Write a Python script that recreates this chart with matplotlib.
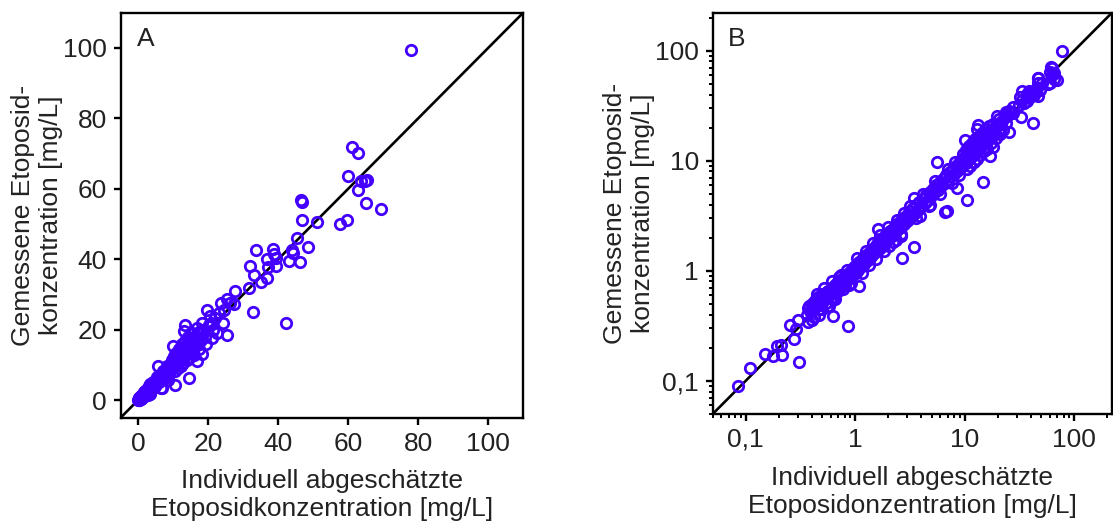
import matplotlib
matplotlib.use("Agg")
import matplotlib.pyplot as plt
from matplotlib.ticker import FixedLocator, FixedFormatter, LogLocator, NullFormatter

plt.rcParams['font.family'] = ['Liberation Sans', 'DejaVu Sans']

# Individually estimated etoposide concentration [mg/L]
individual_est = [
    0.085, 0.110, 0.151, 0.177, 0.193, 0.211, 0.214, 0.253, 0.301, 0.289, 0.277, 0.305, 0.374, 0.631, 0.859,
    0.36, 0.37, 0.38, 0.39, 0.40, 0.41, 0.42, 0.43, 0.44, 0.45, 0.46, 0.47, 0.48, 0.49, 0.50, 0.52, 0.53, 0.54,
    0.55, 0.56, 0.57, 0.58, 0.60, 0.61, 0.62, 0.63, 0.65, 0.66, 0.68, 0.69, 0.70, 0.72, 0.73, 0.75, 0.77, 0.79,
    0.80, 0.82, 0.84, 0.86, 0.88, 0.90, 0.92, 0.94, 0.96, 0.98, 0.40, 0.50, 0.63, 1.09,
    0.42, 0.45, 0.52, 0.58, 0.66, 0.71, 0.78, 0.85, 0.91, 0.55, 0.47, 0.62, 0.75, 0.88,
    1.00, 1.02, 1.04, 1.06, 1.08, 1.10, 1.12, 1.15, 1.18, 1.20, 1.22, 1.25, 1.28, 1.30, 1.33, 1.36, 1.40, 1.43,
    1.46, 1.50, 1.53, 1.56, 1.60, 1.61, 1.64, 1.68, 1.72, 1.76, 1.80, 1.84, 1.88, 1.92, 1.96, 2.00, 2.04, 2.05,
    2.10, 2.15, 2.20, 2.25, 2.30, 2.34, 2.36, 2.42, 2.48, 2.55, 2.62, 2.64, 2.69, 2.70, 2.78, 2.86, 2.95,
    1.05, 1.15, 1.25, 1.35, 1.45, 1.55, 1.70, 1.85, 2.00, 2.20, 2.40, 2.60, 2.80,
    3.02, 3.10, 3.20, 3.30, 3.44, 3.44, 3.40, 3.50, 3.62, 3.74, 3.86, 3.95, 4.00, 4.14, 4.30, 4.45, 4.60, 4.71,
    4.78, 4.95, 5.10, 5.30, 5.50, 5.56, 5.70, 5.90, 6.10, 6.30, 6.58, 6.90, 6.55, 6.80, 7.05, 7.30, 7.55, 7.80,
    8.05, 8.30, 8.50, 8.55, 8.80, 9.05, 9.30, 9.55, 9.80,
    3.20, 3.60, 4.20, 4.80, 5.40, 6.00, 7.00, 7.60, 8.20, 8.90, 9.60,
    10.0, 10.5, 10.1, 10.3, 10.6, 10.8, 11.0, 11.2, 11.4, 11.6, 11.8, 12.0, 12.2, 12.4, 12.6, 12.8, 13.0, 13.1,
    13.3, 13.2, 13.5, 13.7, 14.0, 14.2, 14.5, 14.6, 14.8, 15.0, 15.3, 15.6, 15.9, 16.2, 16.5, 16.9, 17.0, 17.3,
    17.6, 18.1, 18.0, 18.5, 19.0, 19.6, 20.1, 20.9, 21.5, 21.0, 22.0, 23.2, 24.4, 24.1, 25.5, 25.4, 26.3, 27.5,
    27.6,
    10.2, 10.4, 10.9, 11.3, 11.7, 12.1, 12.5, 12.9, 13.4, 13.9, 14.3, 14.9, 15.5, 16.0, 16.7, 17.5, 18.3, 19.3,
    20.5, 22.5, 23.8,
    31.6, 32.0, 32.8, 33.2, 33.6, 35.0, 36.8, 36.9, 37.2, 38.5, 38.9, 39.4, 39.5, 42.2, 43.2, 44.0, 44.3, 45.5,
    46.3, 46.5, 46.9, 46.7, 48.4, 51.2, 57.8, 59.8, 60.0, 61.1, 62.7, 62.9, 63.7, 64.7, 65.3, 65.0, 69.3, 77.8,
]

# Measured etoposide concentration [mg/L]
measured = [
    0.090, 0.132, 0.174, 0.169, 0.206, 0.212, 0.171, 0.323, 0.359, 0.295, 0.239, 0.147, 0.344, 0.385, 0.313,
    0.40, 0.46, 0.48, 0.43, 0.50, 0.44, 0.52, 0.47, 0.55, 0.49, 0.58, 0.52, 0.45, 0.56, 0.61, 0.54, 0.60, 0.51,
    0.64, 0.58, 0.66, 0.62, 0.57, 0.68, 0.64, 0.72, 0.63, 0.74, 0.70, 0.78, 0.66, 0.76, 0.82, 0.72, 0.80, 0.86,
    0.75, 0.88, 0.83, 0.93, 0.86, 0.97, 0.90, 1.02, 0.95, 1.08, 0.36, 0.45, 0.55, 0.73,
    0.38, 0.62, 0.70, 0.48, 0.56, 0.88, 0.68, 1.02, 0.78, 0.47, 0.40, 0.80, 0.92, 0.74,
    1.05, 0.96, 1.15, 1.02, 1.20, 1.08, 1.24, 1.10, 1.30, 1.16, 1.36, 1.22, 1.40, 1.25, 1.46, 1.32, 1.52, 1.38,
    1.58, 1.45, 1.66, 1.50, 1.74, 2.39, 1.58, 1.86, 1.65, 1.92, 1.74, 2.02, 1.80, 2.12, 1.90, 2.18, 1.69, 1.98,
    2.30, 2.06, 2.42, 2.16, 2.52, 1.91, 2.28, 2.64, 2.40, 2.80, 2.52, 2.08, 1.32, 2.95, 2.68, 3.10, 2.84,
    1.30, 0.95, 1.52, 1.12, 1.78, 1.28, 2.10, 1.52, 2.50, 1.82, 2.90, 2.18, 3.35,
    3.30, 2.98, 3.50, 3.18, 1.63, 4.55, 3.72, 3.38, 3.95, 3.58, 4.20, 3.16, 3.85, 4.50, 4.10, 4.85, 4.40, 3.90,
    5.20, 4.75, 5.55, 5.05, 6.00, 9.80, 5.40, 6.40, 5.85, 6.85, 3.40, 3.50, 6.25, 7.40, 6.70, 7.95, 7.20, 8.50,
    7.65, 9.00, 5.60, 8.15, 9.60, 8.60, 10.20, 9.05, 10.60,
    3.90, 3.00, 5.00, 4.00, 6.50, 5.00, 8.40, 6.30, 9.80, 7.50, 11.50,
    15.4, 4.4, 10.8, 9.6, 11.6, 10.2, 12.2, 10.6, 13.0, 11.0, 12.8, 11.4, 14.0, 12.0, 13.6, 11.8, 14.6, 19.6,
    21.3, 12.6, 15.2, 13.0, 16.0, 13.6, 15.0, 6.4, 17.0, 14.2, 16.4, 14.8, 17.6, 15.4, 18.0, 11.1, 16.2, 19.2,
    18.7, 13.2, 17.2, 20.0, 18.0, 25.7, 21.3, 21.9, 20.0, 17.6, 23.2, 24.8, 25.6, 22.0, 18.4, 28.6, 27.5, 27.4,
    31.0,
    12.6, 8.4, 13.5, 9.0, 14.5, 9.8, 15.8, 10.4, 16.8, 11.4, 18.0, 12.2, 19.0, 12.8, 20.5, 14.5, 21.8, 16.0,
    24.0, 19.0, 27.5,
    31.9, 38.0, 25.1, 35.6, 42.6, 33.5, 34.6, 40.2, 37.8, 42.9, 41.6, 38.0, 40.4, 22.0, 39.5, 42.6, 41.8, 45.9,
    39.1, 56.7, 56.2, 51.2, 43.5, 50.6, 49.9, 51.0, 63.7, 71.8, 70.1, 59.6, 62.1, 62.1, 62.4, 55.9, 54.4, 99.5,
]

lin_ticks = [0, 20, 40, 60, 80, 100]
log_ticks = [0.1, 1, 10, 100]
log_tick_labels = ["0,1", "1", "10", "100"]
lin_lim = (-5, 110)
log_lim = (0.05, 220)

ylabel_text = "Gemessene Etoposid-\nkonzentration [mg/L]"
xlabel_a = "Individuell abgeschätzte\nEtoposidkonzentration [mg/L]"
xlabel_b = "Individuell abgeschätzte\nEtoposidonzentration [mg/L]"

point_color = "#4400FF"
text_color = "#222222"
fs = 19

fig = plt.figure(figsize=(11.13, 5.25), dpi=100)
axA = fig.add_axes([0.1084, 0.2044, 0.3617, 0.7714])
axB = fig.add_axes([0.6403, 0.2114, 0.3585, 0.7638])

for ax in (axA, axB):
    for sp in ax.spines.values():
        sp.set_linewidth(1.7)
        sp.set_color("black")
    ax.tick_params(which="major", direction="out", length=5, width=1.7,
                   labelsize=fs, labelcolor=text_color, color="black", pad=5)
    ax.tick_params(which="minor", direction="out", length=3, width=1.4, color="black")

# Panel A (linear)
axA.plot(lin_lim, lin_lim, color="black", lw=1.9, zorder=2)
axA.plot(individual_est, measured, linestyle="none", marker="o", ms=7.5, mew=2.0,
         mfc="none", mec=point_color, zorder=3)
axA.set_xlim(*lin_lim)
axA.set_ylim(*lin_lim)
axA.xaxis.set_major_locator(FixedLocator(lin_ticks))
axA.yaxis.set_major_locator(FixedLocator(lin_ticks))
axA.set_xlabel(xlabel_a, fontsize=fs, color=text_color, labelpad=10)
axA.set_ylabel(ylabel_text, fontsize=fs, color=text_color, labelpad=0)
axA.text(0.04, 0.965, "A", transform=axA.transAxes, ha="left", va="top",
         fontsize=fs, color=text_color)

# Panel B (log-log)
axB.plot(log_lim, log_lim, color="black", lw=1.9, zorder=2)
axB.plot(individual_est, measured, linestyle="none", marker="o", ms=7.5, mew=2.0,
         mfc="none", mec=point_color, zorder=3)
axB.set_xscale("log")
axB.set_yscale("log")
axB.set_xlim(*log_lim)
axB.set_ylim(*log_lim)
for axis in (axB.xaxis, axB.yaxis):
    axis.set_major_locator(FixedLocator(log_ticks))
    axis.set_major_formatter(FixedFormatter(log_tick_labels))
    axis.set_minor_locator(LogLocator(base=10, subs=range(2, 10)))
    axis.set_minor_formatter(NullFormatter())
axB.set_xlabel(xlabel_b, fontsize=fs, color=text_color, labelpad=10)
axB.set_ylabel(ylabel_text, fontsize=fs, color=text_color, labelpad=0)
axB.text(0.037, 0.965, "B", transform=axB.transAxes, ha="left", va="top",
         fontsize=fs, color=text_color)

fig.savefig("out.png", dpi=100)
